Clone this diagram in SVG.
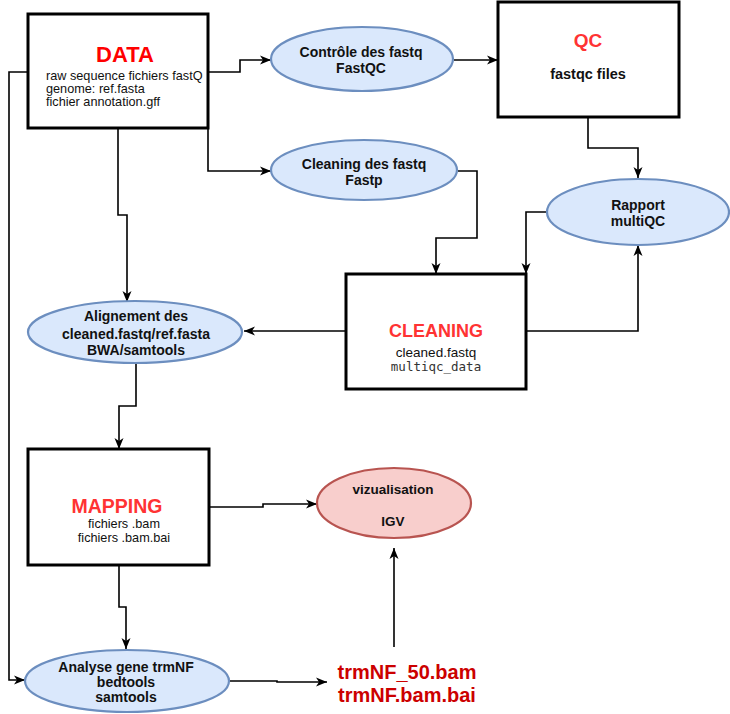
<svg xmlns="http://www.w3.org/2000/svg" width="730" height="714" viewBox="0 0 730 714">
<style>
.box{fill:#fff;stroke:#000;stroke-width:3}
.ell{fill:#dae8fc;stroke:#6c8ebf;stroke-width:2.2}
.ellr{fill:#f8cecc;stroke:#b85450;stroke-width:2.2}
.conn{fill:none;stroke:#000;stroke-width:1.6;stroke-linejoin:miter}
text{font-family:"Liberation Sans",Arial,sans-serif;fill:#000}
.title{font-weight:bold;fill:#ff3333;text-anchor:middle}
.et{font-weight:bold;font-size:14px;text-anchor:middle;fill:#111}
.small{font-size:12.7px;fill:#111}
.mono{font-family:"DejaVu Sans Mono","Liberation Mono",monospace;font-size:12.5px;fill:#333;text-anchor:middle}
.red{font-weight:bold;font-size:20px;fill:#cc0000;text-anchor:middle}
</style>
<defs>
<marker id="arr" markerUnits="userSpaceOnUse" markerWidth="12" markerHeight="10" refX="11" refY="5" orient="auto">
<path d="M0,0.5 L11,5 L0,9.5 L3,5 z" fill="#000"/>
</marker>
</defs>
<rect width="730" height="714" fill="#fff"/>
<g id="connectors">
<path class="conn" d="M208,72 H240 V60 H271" marker-end="url(#arr)"/>
<path class="conn" d="M208,128 V171 H271" marker-end="url(#arr)"/>
<path class="conn" d="M454,60 H498" marker-end="url(#arr)"/>
<path class="conn" d="M588,117 V148 H638 V178" marker-end="url(#arr)"/>
<path class="conn" d="M547,212 H526 V274" marker-end="url(#arr)"/>
<path class="conn" d="M458,171 H477 V238 H436 V274" marker-end="url(#arr)"/>
<path class="conn" d="M526,331 H638 V245" marker-end="url(#arr)"/>
<path class="conn" d="M346,331 H244" marker-end="url(#arr)"/>
<path class="conn" d="M118,128 V215 H127 V302" marker-end="url(#arr)"/>
<path class="conn" d="M136,363 V406 H119 V449" marker-end="url(#arr)"/>
<path class="conn" d="M209,507 H263 V504 H317" marker-end="url(#arr)"/>
<path class="conn" d="M119,565 V607 H126 V649" marker-end="url(#arr)"/>
<path class="conn" d="M28,72 H9 V680 H25" marker-end="url(#arr)"/>
<path class="conn" d="M228,681 H277 V682 H327" marker-end="url(#arr)"/>
<path class="conn" d="M394,647 V548" marker-end="url(#arr)"/>
</g>
<g id="data">
<rect class="box" x="28" y="14" width="180" height="114"/>
<text class="title" x="125" y="62" style="font-size:22px;fill:#ff0000">DATA</text>
<text class="small" x="46" y="80">raw sequence fichiers fastQ</text>
<text class="small" x="46" y="93">genome: ref.fasta</text>
<text class="small" x="46" y="106">fichier annotation.gff</text>
</g>
<g id="controle">
<ellipse class="ell" cx="362" cy="59" rx="91" ry="32"/>
<text class="et" x="361" y="57">Contrôle des fastq</text>
<text class="et" x="361" y="73">FastQC</text>
</g>
<g id="cleaning-fastq">
<ellipse class="ell" cx="364" cy="170" rx="93" ry="30"/>
<text class="et" x="364" y="169">Cleaning des fastq</text>
<text class="et" x="364" y="185">Fastp</text>
</g>
<g id="qc">
<rect class="box" x="498" y="2" width="181" height="115"/>
<text class="title" x="588" y="47" style="font-size:19px">QC</text>
<text class="et" x="588" y="79" style="font-size:14.5px">fastqc files</text>
</g>
<g id="rapport">
<ellipse class="ell" cx="638" cy="212" rx="91" ry="33"/>
<text class="et" x="638" y="210">Rapport</text>
<text class="et" x="638" y="226">multiQC</text>
</g>
<g id="cleaning">
<rect class="box" x="346" y="274" width="180" height="115"/>
<text class="title" x="436" y="337" style="font-size:18px">CLEANING</text>
<text x="436" y="357" style="font-size:13.5px;text-anchor:middle;fill:#111">cleaned.fastq</text>
<text class="mono" x="436" y="371">multiqc_data</text>
</g>
<g id="alignement">
<ellipse class="ell" cx="135" cy="332" rx="107" ry="31"/>
<text class="et" x="136" y="321">Alignement des</text>
<text class="et" x="136" y="339">cleaned.fastq/ref.fasta</text>
<text class="et" x="136" y="355">BWA/samtools</text>
</g>
<g id="mapping">
<rect class="box" x="28" y="449" width="181" height="116"/>
<text class="title" x="117" y="513" style="font-size:19.5px">MAPPING</text>
<text class="small" x="124" y="528" style="text-anchor:middle">fichiers .bam</text>
<text class="small" x="124" y="541.5" style="text-anchor:middle">fichiers .bam.bai</text>
</g>
<g id="vizualisation">
<ellipse class="ellr" cx="394" cy="503" rx="77" ry="35"/>
<text class="et" x="393" y="494" style="font-size:13.5px">vizualisation</text>
<text class="et" x="393" y="526" style="font-size:13.5px">IGV</text>
</g>
<g id="analyse">
<ellipse class="ell" cx="127" cy="681" rx="102" ry="31"/>
<text class="et" x="126" y="672">Analyse gene trmNF</text>
<text class="et" x="126" y="687">bedtools</text>
<text class="et" x="126" y="702">samtools</text>
</g>
<g id="trmnf">
<text class="red" x="407" y="679">trmNF_50.bam</text>
<text class="red" x="407" y="702">trmNF.bam.bai</text>
</g>
</svg>
